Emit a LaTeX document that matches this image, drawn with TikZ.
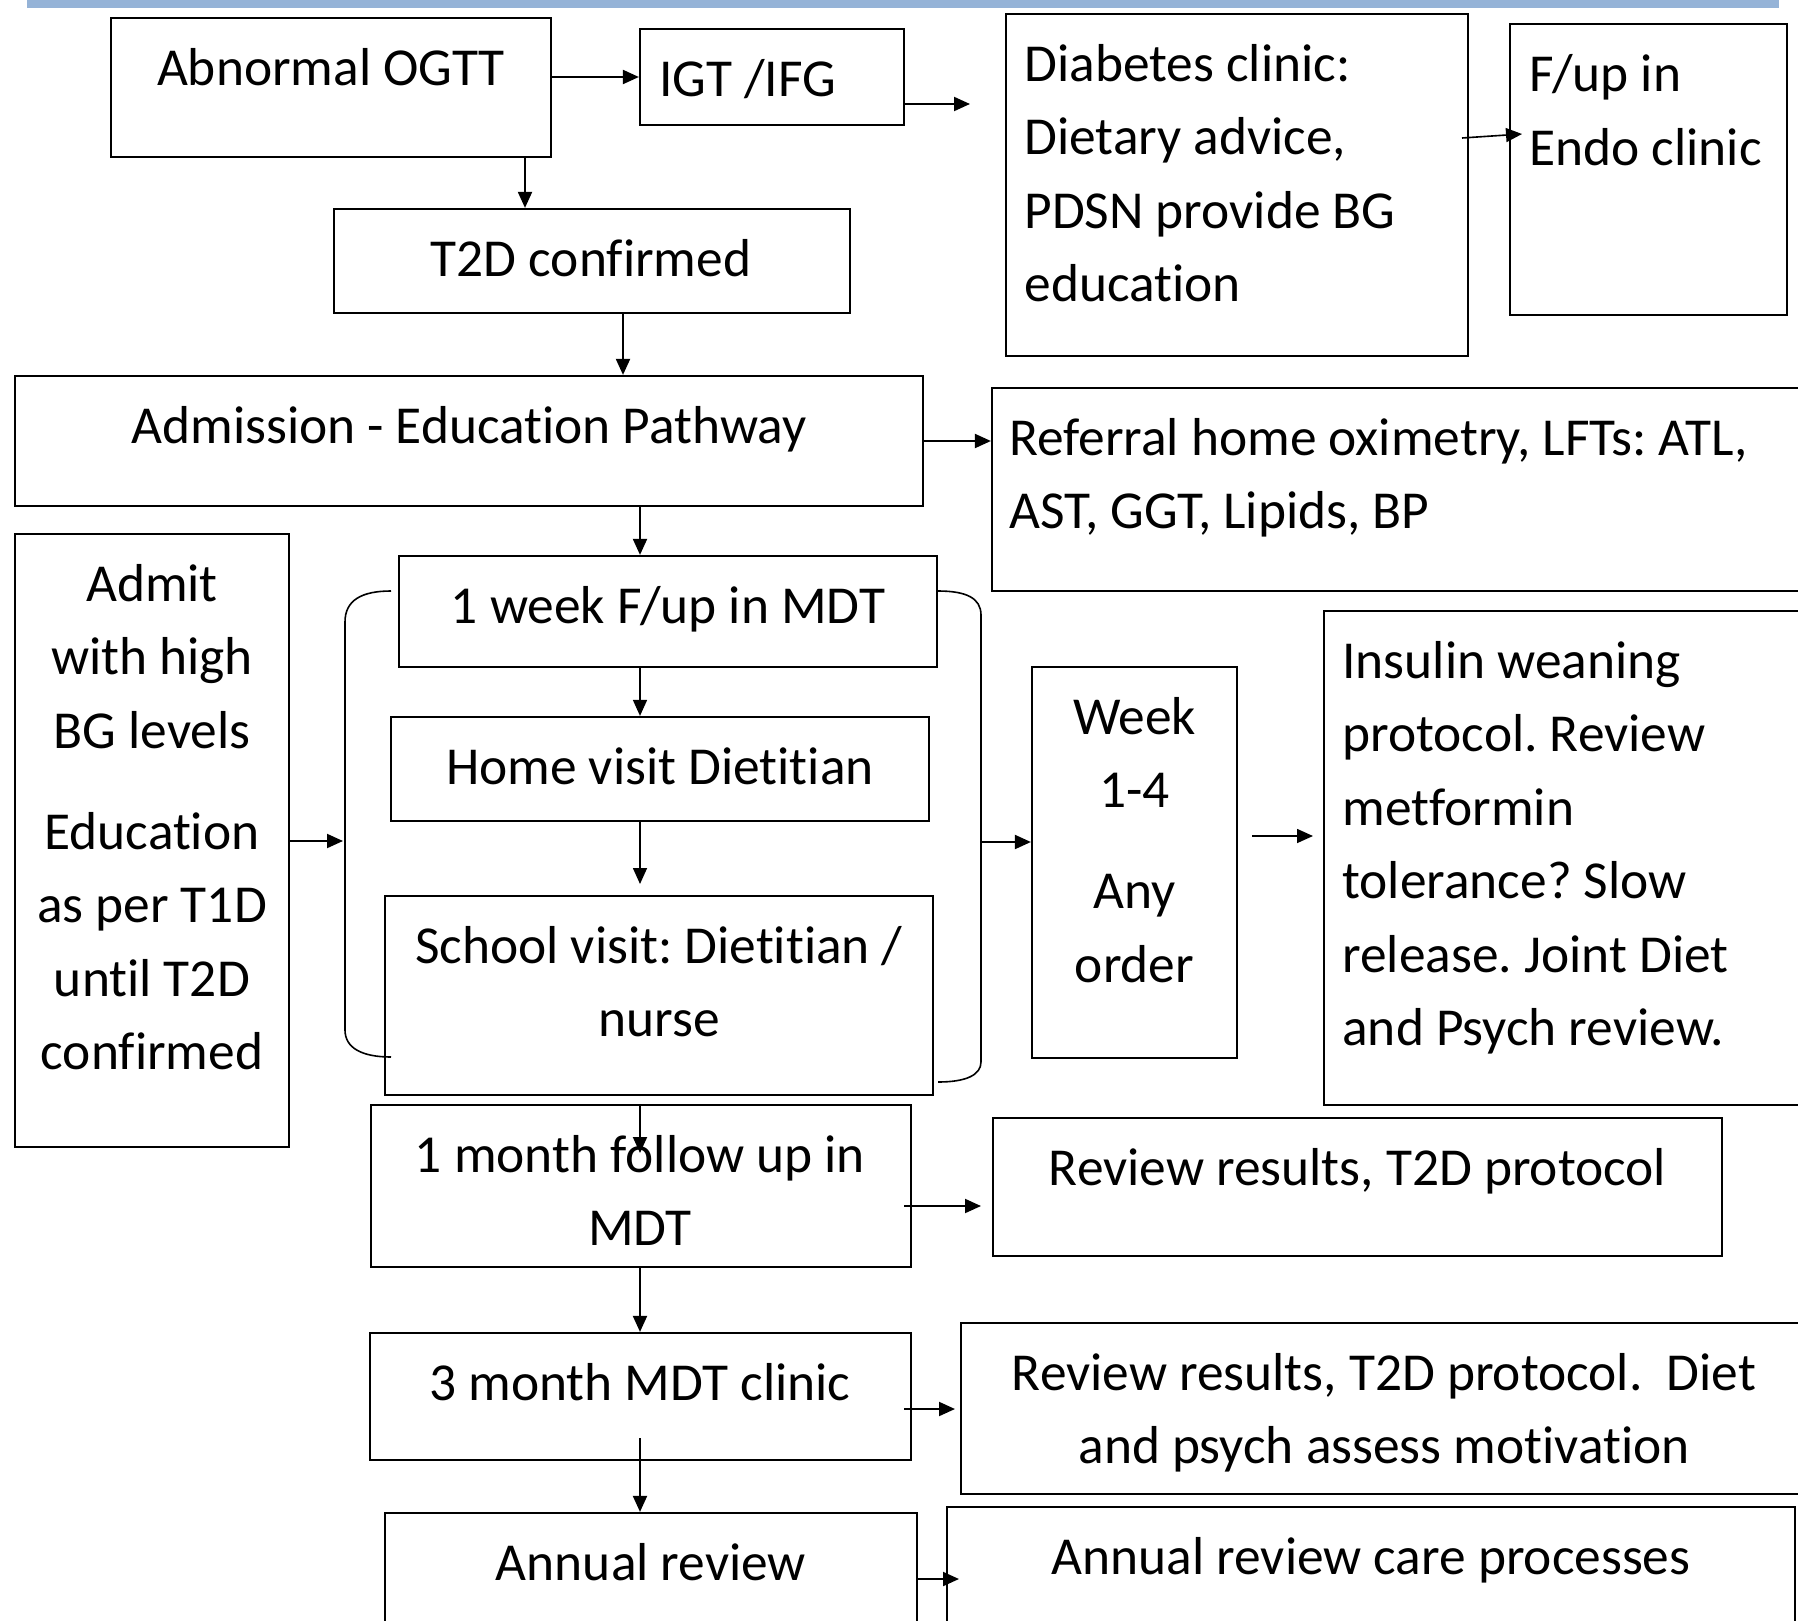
\documentclass[tikz,border=0pt]{standalone}
\usepackage{fontspec}
\setmainfont{Carlito}[Ligatures=NoCommon]
\usetikzlibrary{arrows.meta,fit}
\definecolor{barblue}{RGB}{149,179,215}
\newcommand{\mylines}[2]{\begin{tabular}[t]{@{}#1@{}}#2\end{tabular}}
\frenchspacing
\begin{document}
\begin{tikzpicture}[x=0.5pt,y=-0.5pt,
  box/.style={draw=black, line width=1.1pt, inner sep=0pt},
  arr/.style={line width=1pt, -{Triangle[length=8pt,width=7pt]}},
  thinarr/.style={line width=0.8pt, -{Triangle[length=8pt,width=7pt]}},
  brk/.style={line width=0.8pt},
  txt/.style={inner sep=0pt, font=\fontsize{26.7pt}{36.7pt}\selectfont}]
\useasboundingbox (0,0) rectangle (1798,1621);
\clip (0,0) rectangle (1798,1621);
\fill[white] (0,0) rectangle (1798,1621);
% top bar
\fill[barblue] (27,0) rectangle (1779,8);
% boxes
\node[box, fit={(111,18) (551,157)}] (ogtt) {};
\node[box, fit={(640,29) (904,125)}] (igt) {};
\node[box, fit={(1006,14) (1468,356)}] (clinic) {};
\node[box, fit={(1510,24) (1787,315)}] (fup) {};
\node[box, fit={(334,209) (850,313)}] (t2d) {};
\node[box, fit={(15,376) (923,506)}] (adm) {};
\node[box, fit={(992,388) (1830,591)}] (ref) {};
\node[box, fit={(15,534) (289,1147)}] (admit) {};
\node[box, fit={(399,556) (937,667)}] (wk1) {};
\node[box, fit={(391,717) (929,821)}] (home) {};
\node[box, fit={(385,896) (933,1095)}] (school) {};
\node[box, fit={(1032,667) (1237,1058)}] (week) {};
\node[box, fit={(1324,611) (1830,1105)}] (ins) {};
\node[box, fit={(371,1105) (911,1267)}] (m1) {};
\node[box, fit={(993,1118) (1722,1256)}] (rev1) {};
\node[box, fit={(370,1333) (911,1460)}] (m3) {};
\node[box, fit={(961,1323) (1830,1494)}] (rev2) {};
\node[box, fit={(385,1513) (917,1660)}] (ann) {};
\node[box, fit={(947,1507) (1795,1660)}] (care) {};
% texts
\node[txt, anchor=base] (ogttT) at (331,86) {Abnormal OGTT};
\node[txt, anchor=base west] (igtT) at (659,96.5) {IGT /IFG};
\node[txt, anchor=base west] (clinicT) at (1024,81.5) {\mylines{l}{Diabetes clinic:\\Dietary advice,\\PDSN provide BG\\education}};
\node[txt, anchor=base west] (fupT) at (1529,92) {\mylines{l}{F/up in\\Endo clinic}};
\node[txt, anchor=base] (t2dT) at (591,276.5) {T2D confirmed};
\node[txt, anchor=base] (admT) at (469,443.5) {Admission - Education Pathway};
\node[txt, anchor=base west] (refT) at (1009,455.5) {\mylines{l}{Referral home oximetry, LFTs: ATL,\\AST, GGT, Lipids, BP}};
\node[txt, anchor=base] (admitT) at (152,601.5) {\mylines{c}{Admit\\with high\\BG levels\\[13.75pt]Education\\as per T1D\\until T2D\\confirmed}};
\node[txt, anchor=base] (wk1T) at (668,623.5) {1 week F/up in MDT};
\node[txt, anchor=base] (homeT) at (660,784.5) {Home visit Dietitian};
\node[txt, anchor=base] (schoolT) at (659,963.5) {\mylines{c}{School visit: Dietitian /\\nurse}};
\node[txt, anchor=base] (weekT) at (1134.5,734.5) {\mylines{c}{Week\\1-4\\[13.75pt]Any\\order}};
\node[txt, anchor=base west] (insT) at (1342,678.5) {\mylines{l}{Insulin weaning\\protocol. Review\\metformin\\tolerance? Slow\\release. Joint Diet\\and Psych review.}};
\node[txt, anchor=base] (m1T) at (640,1172.5) {\mylines{c}{1 month follow up in\\MDT}};
\node[txt, anchor=base] (rev1T) at (1357.5,1185.5) {Review results, T2D protocol};
\node[txt, anchor=base] (m3T) at (640,1400.5) {3 month MDT clinic};
\node[txt, anchor=base] (rev2T) at (1384,1390.5) {\mylines{c}{Review results, T2D protocol.\ \ Diet\\and psych assess motivation}};
\node[txt, anchor=base] (annT) at (651,1580.5) {Annual review};
\node[txt, anchor=base] (careT) at (1371,1574.5) {Annual review care processes};
% helper coordinates
\coordinate (xa) at (525,0);
\coordinate (xb) at (623,0);
\coordinate (xc) at (640,0);
\coordinate (igtEnd) at (970,104);
\coordinate (cfA) at (1462,138);
\coordinate (cfB) at (1522,134);
\coordinate (schTop) at (640,884);
\coordinate (lb) at (343,841);
\coordinate (rb) at (981,842);
\coordinate (wiA) at (1252,836);
\coordinate (wiB) at (1313,836);
\coordinate (m1tip) at (640,1153);
\coordinate (r1A) at (904,1206);
\coordinate (r1B) at (981,1206);
\coordinate (r2A) at (904,1409);
\coordinate (r2B) at (955,1409);
\coordinate (m3in) at (640,1438);
\coordinate (acB) at (959,1579);
% connectors
\draw[arr] (ogtt.east |- igt.west) -- (igt.west);
\draw[arr] (igt.east |- igtEnd) -- (igtEnd);
\draw[thinarr] (cfA) -- (cfB);
\draw[arr] (ogtt.south -| xa) -- (t2d.north -| xa);
\draw[arr] (t2d.south -| xb) -- (adm.north -| xb);
\draw[arr] (adm.east) -- (ref.west |- adm.east);
\draw[arr] (adm.south -| xc) -- (wk1.north -| xc);
\draw[thinarr] (wk1.south -| xc) -- (home.north -| xc);
\draw[thinarr] (home.south -| xc) -- (schTop);
% brackets
\draw[brk] (391,591) .. controls (362,591) and (345,600) .. (345,622) -- (345,1030) .. controls (345,1048) and (362,1057) .. (391,1057);
\draw[brk] (938,591) .. controls (966,591) and (981,598) .. (981,615) -- (981,1062) .. controls (981,1075) and (966,1082) .. (938,1082);
\draw[arr] (admit.east |- lb) -- (lb);
\draw[arr] (rb) -- (week.west |- rb);
\draw[thinarr] (wiA) -- (wiB);
\draw[arr] (m1.north -| xc) -- (m1tip);
\draw[arr] (r1A) -- (r1B);
\draw[arr] (m1.south -| xc) -- (m3.north -| xc);
\draw[arr] (r2A) -- (r2B);
\draw[arr] (m3in) -- (ann.north -| xc);
\draw[arr] (ann.east |- acB) -- (acB);
\end{tikzpicture}
\end{document}
